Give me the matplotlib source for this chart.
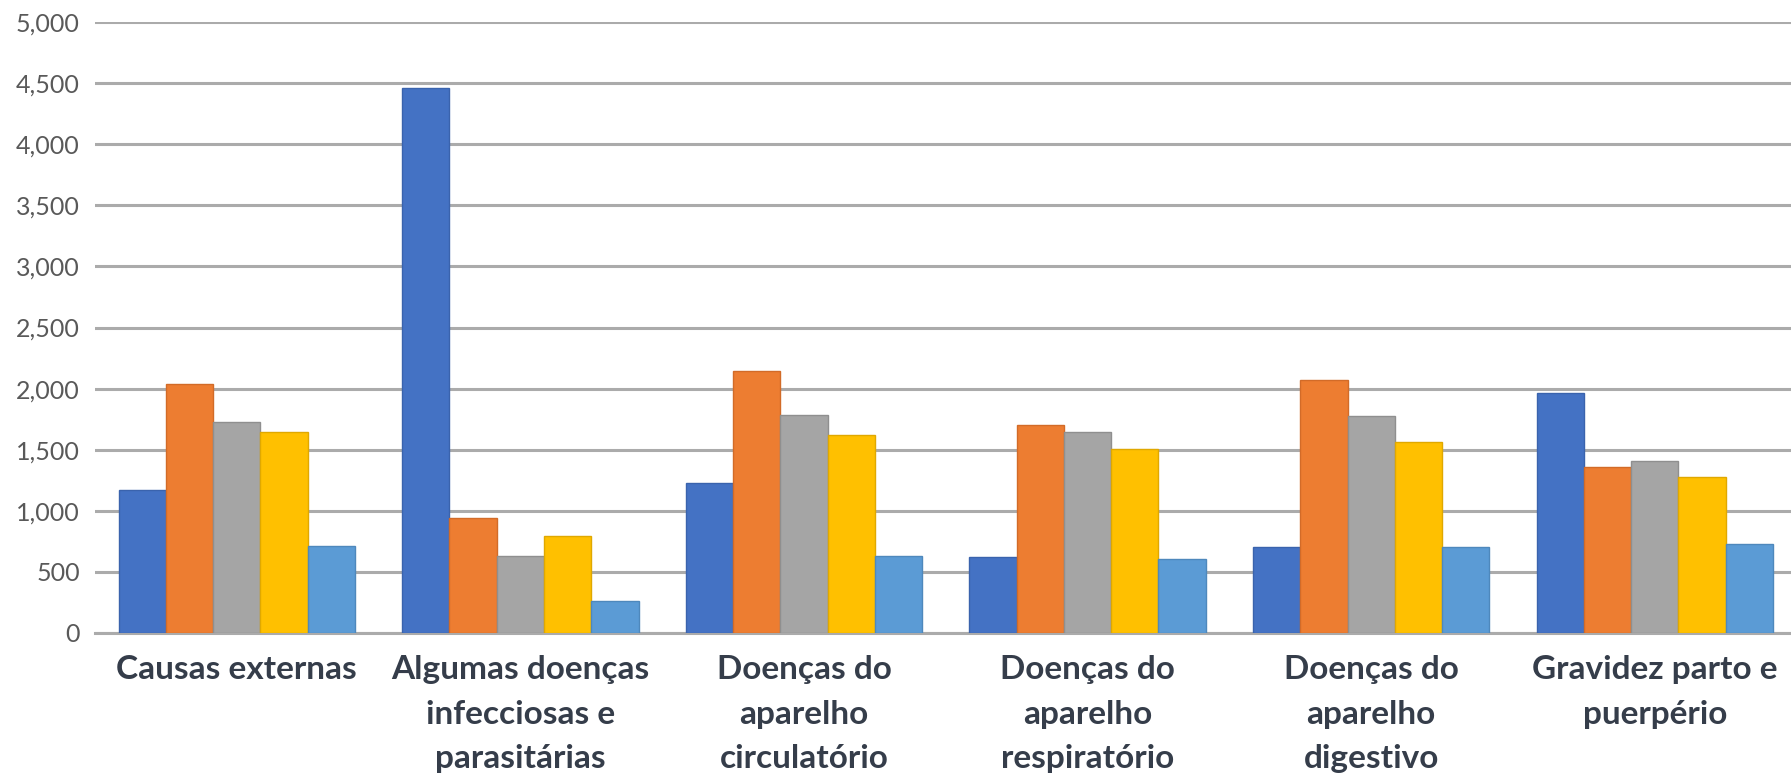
import numpy as np
import matplotlib
matplotlib.use("Agg")
import matplotlib.pyplot as plt
from matplotlib.ticker import FuncFormatter

# Categories (causes) and the five series
categories = [
    "Causas externas",
    "Algumas doenças\ninfecciosas e\nparasitárias",
    "Doenças do\naparelho\ncirculatório",
    "Doenças do\naparelho\nrespiratório",
    "Doenças do\naparelho\ndigestivo",
    "Gravidez parto e\npuerpério",
]
serie_1 = [1170, 4457, 1227, 619, 700, 1961]
serie_2 = [2035, 941, 2146, 1699, 2067, 1361]
serie_3 = [1729, 627, 1786, 1645, 1778, 1407]
serie_4 = [1642, 796, 1617, 1508, 1563, 1279]
serie_5 = [712, 264, 627, 605, 704, 726]

series = [serie_1, serie_2, serie_3, serie_4, serie_5]
colors = ["#4472C4", "#ED7D31", "#A5A5A5", "#FFC000", "#5B9BD5"]
edges = ["#3A63AD", "#D26B28", "#8F8F8F", "#E0A800", "#4E88BC"]

fig = plt.figure(figsize=(17.91, 7.80), dpi=100)
ax = fig.add_axes([95 / 1791, 147 / 780, 1701.6 / 1791, 611 / 780])

x = np.arange(len(categories))
bar_w = 1 / 6
for i, (vals, c, e) in enumerate(zip(series, colors, edges)):
    ax.bar(x + (i - 2) * bar_w, vals, width=bar_w, color=c,
           edgecolor=e, linewidth=1.0, zorder=3)

ax.set_xlim(-0.5, 5.5)
ax.set_ylim(0, 5000)
ax.set_yticks(np.arange(0, 5001, 500))
ax.yaxis.set_major_formatter(FuncFormatter(lambda v, p: f"{int(v):,}"))
ax.grid(axis="y", color="#ABABAB", linewidth=2.2, zorder=0)
ax.set_axisbelow(True)

for s in ["top", "right", "left"]:
    ax.spines[s].set_visible(False)
ax.spines["bottom"].set_color("#ABABAB")
ax.spines["bottom"].set_linewidth(2.2)

ax.tick_params(axis="y", length=0, pad=11, labelsize=18, labelcolor="#595959")
ax.tick_params(axis="x", length=0, pad=16)
ax.set_xticks(x)
ax.set_xticklabels(categories, fontsize=24, color="#353D4A",
                   fontfamily="Lato", fontweight="bold", linespacing=1.65)
for lab in ax.get_yticklabels():
    lab.set_fontfamily("Lato")

fig.savefig("out.png", dpi=100)
